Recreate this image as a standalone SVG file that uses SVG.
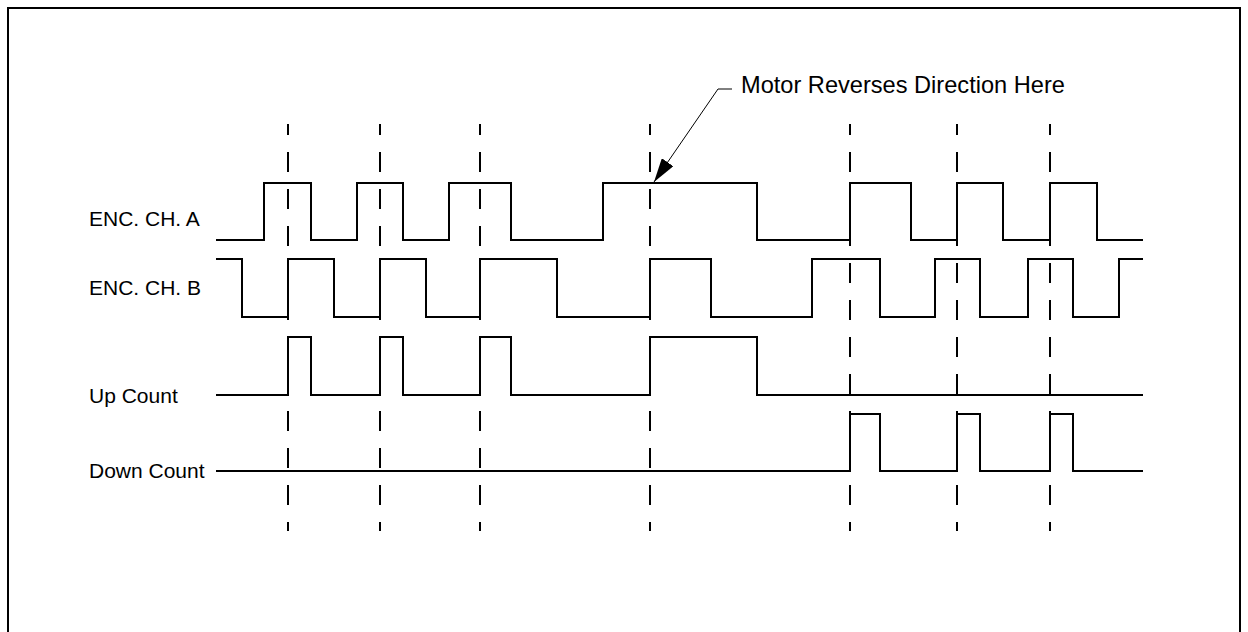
<svg xmlns="http://www.w3.org/2000/svg" width="1248" height="632" viewBox="0 0 1248 632">
<style>
.frame{fill:none;stroke:#000;stroke-width:2}
.wave{fill:none;stroke:#000;stroke-width:2;stroke-linejoin:miter}
.dash{stroke:#000;stroke-width:2;stroke-dasharray:20 17;stroke-dashoffset:9}
.lbl{font-family:"Liberation Sans",Arial,sans-serif;font-size:21px;fill:#000}
.note{font-family:"Liberation Sans",Arial,sans-serif;font-size:23.6px;fill:#000}
.leader{fill:none;stroke:#000;stroke-width:1}
</style>
<defs>
<marker id="ah" viewBox="0 0 24 14" refX="24" refY="7" markerWidth="24" markerHeight="14" markerUnits="userSpaceOnUse" orient="auto">
<path d="M0,0 L24,7 L0,14 Z" fill="#000"/>
</marker>
</defs>
<rect width="1248" height="632" fill="#fff"/>
<path class="frame" d="M8,632 V8 H1240 V632"/>
<g id="guides">
<line class="dash" x1="288" y1="124" x2="288" y2="531"/>
<line class="dash" x1="380" y1="124" x2="380" y2="531"/>
<line class="dash" x1="480" y1="124" x2="480" y2="531"/>
<line class="dash" x1="650" y1="124" x2="650" y2="531"/>
<line class="dash" x1="850" y1="124" x2="850" y2="531"/>
<line class="dash" x1="957" y1="124" x2="957" y2="531"/>
<line class="dash" x1="1050" y1="124" x2="1050" y2="531"/>
</g>
<g id="enc-a">
<text class="lbl" x="89" y="226">ENC. CH. A</text>
<path class="wave" d="M216,240 H264 V183 H311 V240 H357 V183 H403 V240 H449 V183 H511 V240 H603 V183 H757 V240 H850 V183 H911 V240 H957 V183 H1003 V240 H1050 V183 H1097 V240 H1143"/>
</g>
<g id="enc-b">
<text class="lbl" x="89" y="295">ENC. CH. B</text>
<path class="wave" d="M216,259 H242 V317 H288 V259 H334 V317 H380 V259 H426 V317 H480 V259 H557 V317 H650 V259 H711 V317 H812 V259 H880 V317 H935 V259 H980 V317 H1028 V259 H1073 V317 H1119 V259 H1143"/>
</g>
<g id="up-count">
<text class="lbl" x="89" y="403">Up Count</text>
<path class="wave" d="M216,395 H288 V337 H311 V395 H380 V337 H403 V395 H480 V337 H511 V395 H650 V337 H757 V395 H1143"/>
</g>
<g id="down-count">
<text class="lbl" x="89" y="478">Down Count</text>
<path class="wave" d="M216,471 H850 V414 H880 V471 H957 V414 H980 V471 H1050 V414 H1073 V471 H1143"/>
</g>
<g id="note">
<text class="note" x="741" y="93">Motor Reverses Direction Here</text>
</g>
<g id="connectors">
<path class="leader" d="M732,89 H718 L654,182" marker-end="url(#ah)"/>
</g>
</svg>
